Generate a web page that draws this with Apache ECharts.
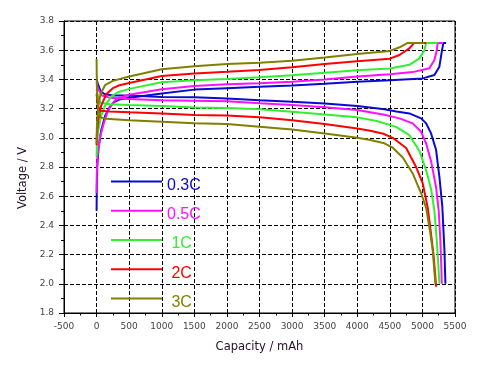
<!DOCTYPE html>
<html><head><meta charset="utf-8">
<script src="https://cdn.jsdelivr.net/npm/echarts@6/dist/echarts.min.js"></script>
<style>html,body{margin:0;padding:0;background:#fff}#c{width:488px;height:366px}</style>
</head><body><div id="c"></div>
<script>
var rateNames = ['0.3C', '0.5C', '1C', '2C', '3C'];
var rateColors = ['#0a0ad0', '#ff10ff', '#30f030', '#ff0000', '#808000'];
var xTicks = [-500, 0, 500, 1000, 1500, 2000, 2500, 3000, 3500, 4000, 4500, 5000, 5500];
var yTicks = [1.8, 2.0, 2.2, 2.4, 2.6, 2.8, 3.0, 3.2, 3.4, 3.6, 3.8];

// charge curves: [capacity mAh, voltage V]
var charge03 = [[0,2.5],[3,2.65],[10,2.8],[30,2.93],[70,3.05],[130,3.15],[200,3.21],[270,3.245],[350,3.262],[500,3.275],[1000,3.304],[1500,3.33],[2000,3.34],[2500,3.35],[3000,3.358],[3500,3.37],[4000,3.384],[4500,3.395],[5005,3.407],[5184,3.43],[5260,3.487],[5301,3.6],[5322,3.65],[5364,3.65]];
var charge05 = [[0,2.62],[3,2.75],[15,2.88],[50,3.0],[110,3.1],[170,3.18],[250,3.24],[320,3.27],[500,3.295],[1000,3.332],[1500,3.354],[2000,3.366],[2500,3.373],[3000,3.384],[3500,3.4],[4000,3.42],[4500,3.436],[4852,3.45],[5107,3.476],[5184,3.533],[5220,3.6],[5235,3.65],[5312,3.65]];
var charge1 = [[0,2.87],[5,2.95],[25,3.05],[70,3.15],[130,3.22],[220,3.28],[320,3.31],[500,3.335],[1000,3.38],[1500,3.395],[2000,3.402],[2500,3.414],[3000,3.428],[3500,3.446],[4000,3.462],[4500,3.475],[4800,3.5],[4954,3.544],[5031,3.6],[5056,3.65],[5235,3.65]];
var charge2 = [[0,2.95],[5,3.03],[25,3.12],[70,3.22],[150,3.3],[250,3.34],[350,3.36],[500,3.375],[1000,3.423],[1500,3.441],[2000,3.452],[2500,3.464],[3000,3.483],[3500,3.505],[4000,3.525],[4500,3.542],[4647,3.567],[4800,3.613],[4877,3.65],[5060,3.65]];
var charge3 = [[0,2.96],[5,3.08],[20,3.2],[60,3.3],[130,3.36],[250,3.39],[500,3.42],[1000,3.469],[1500,3.49],[2000,3.505],[2500,3.514],[3000,3.528],[3500,3.55],[4000,3.574],[4500,3.595],[4650,3.62],[4775,3.65],[5030,3.65]];

// discharge curves
var discharge03 = [[0,3.4],[20,3.37],[60,3.32],[120,3.3],[250,3.29],[500,3.29],[1000,3.28],[1500,3.277],[2000,3.27],[2500,3.258],[3000,3.247],[3500,3.235],[4000,3.217],[4417,3.195],[4600,3.18],[4800,3.167],[4980,3.133],[5057,3.099],[5133,3.03],[5210,2.916],[5261,2.73],[5305,2.53],[5338,2.23],[5353,2.0]];
var discharge05 = [[0,3.38],[20,3.34],[80,3.29],[200,3.275],[500,3.265],[1000,3.258],[1500,3.254],[2000,3.25],[2500,3.236],[3000,3.224],[3500,3.21],[4000,3.19],[4417,3.158],[4647,3.133],[4851,3.099],[4980,3.041],[5057,2.961],[5133,2.84],[5210,2.66],[5250,2.5],[5275,2.3],[5290,2.12],[5297,2.0]];
var discharge1 = [[0,3.33],[20,3.28],[60,3.24],[200,3.23],[500,3.225],[1000,3.217],[1500,3.208],[2000,3.204],[2500,3.195],[3000,3.178],[3500,3.16],[4000,3.14],[4300,3.115],[4596,3.075],[4800,3.018],[4954,2.91],[5057,2.778],[5133,2.65],[5184,2.5],[5220,2.3],[5245,2.12],[5261,2.0]];
var discharge2 = [[0,3.3],[20,3.22],[60,3.185],[200,3.18],[500,3.175],[1000,3.167],[1500,3.157],[2000,3.153],[2500,3.14],[3000,3.121],[3500,3.095],[4000,3.064],[4200,3.048],[4400,3.028],[4545,3.0],[4750,2.93],[4903,2.8],[5005,2.687],[5082,2.52],[5130,2.35],[5170,2.2],[5195,2.07],[5210,1.98]];
var discharge3 = [[0,3.54],[5,3.35],[20,3.2],[60,3.14],[150,3.13],[500,3.12],[1000,3.11],[1500,3.099],[2000,3.094],[2500,3.075],[3000,3.057],[3500,3.03],[4000,3.0],[4200,2.985],[4400,2.965],[4545,2.932],[4698,2.865],[4851,2.756],[4980,2.62],[5057,2.52],[5120,2.35],[5158,2.23],[5185,2.08],[5199,2.0]];

var chargeSets = [charge03, charge05, charge1, charge2, charge3];
var dischargeSets = [discharge03, discharge05, discharge1, discharge2, discharge3];

var series = [];
for (var i = 0; i < rateNames.length; i++) {
  [chargeSets[i], dischargeSets[i]].forEach(function (d) {
    series.push({
      name: rateNames[i], type: 'line', data: d, showSymbol: false, symbol: 'none',
      lineStyle: { color: rateColors[i], width: 2 }, itemStyle: { color: rateColors[i] }
    });
  });
}

function legendText(i) {
  return { color: rateColors[i], fontFamily: 'Liberation Sans', fontSize: 16,
    rich: {
      s: { fontSize: 1, lineHeight: 8 },
      t: { color: rateColors[i], fontFamily: 'Liberation Sans', fontSize: 16, lineHeight: 16 }
    } };
}

var chart = echarts.init(document.getElementById('c'));
chart.setOption({
  animation: false,
  backgroundColor: '#fff',
  grid: { left: 64, right: 33, top: 21, bottom: 53, show: true, borderColor: '#000', borderWidth: 1, backgroundColor: 'rgba(0,0,0,0)', z: 0 },
  legend: {
    orient: 'vertical', left: 111, top: 173, padding: 0, itemWidth: 51, itemHeight: 2, itemGap: 8.75,
    icon: 'rect',
    data: rateNames.map(function (n, i) {
      return { name: n, icon: 'rect', itemStyle: { color: rateColors[i] }, textStyle: legendText(i) };
    }),
    formatter: function (n) { return '{s| }\n{t|' + (n.length < 4 ? ' ' + n : n) + '}'; },
    textStyle: { fontFamily: 'Liberation Sans', fontSize: 16 }
  },
  xAxis: {
    type: 'value', min: xTicks[0], max: xTicks[xTicks.length - 1], interval: 500,
    name: 'Capacity / mAh', nameLocation: 'middle', nameGap: 28,
    nameTextStyle: { fontFamily: 'DejaVu Sans', fontSize: 11.5, color: '#201028' },
    axisLine: { show: true, onZero: false, lineStyle: { color: '#000', width: 1 } },
    axisTick: { show: true, length: 4, lineStyle: { color: '#000' } },
    minorTick: { show: true, splitNumber: 2, length: 2.5, lineStyle: { color: '#000' } },
    axisLabel: { fontFamily: 'DejaVu Sans', fontSize: 9, color: '#444', margin: 9, formatter: function (v) { return String(v); } },
    splitLine: { show: true, lineStyle: { color: '#000', type: 'dashed', width: 1 } },
    z: 1
  },
  yAxis: {
    type: 'value', min: yTicks[0], max: yTicks[yTicks.length - 1], interval: 0.2,
    name: 'Voltage / V', nameLocation: 'middle', nameGap: 33,
    nameTextStyle: { fontFamily: 'DejaVu Sans', fontSize: 11.5, color: '#201028', padding: [0, 22, 0, 0] },
    axisLine: { show: true, onZero: false, lineStyle: { color: '#000', width: 1 } },
    axisTick: { show: true, length: 5, lineStyle: { color: '#000' } },
    minorTick: { show: true, splitNumber: 2, length: 3, lineStyle: { color: '#000' } },
    axisLabel: { fontFamily: 'DejaVu Sans', fontSize: 9, color: '#444', margin: 10, formatter: function (v) { return v.toFixed(1); } },
    splitLine: { show: true, lineStyle: { color: '#000', type: 'dashed', width: 1 } },
    z: 1
  },
  series: series
});
</script></body></html>
